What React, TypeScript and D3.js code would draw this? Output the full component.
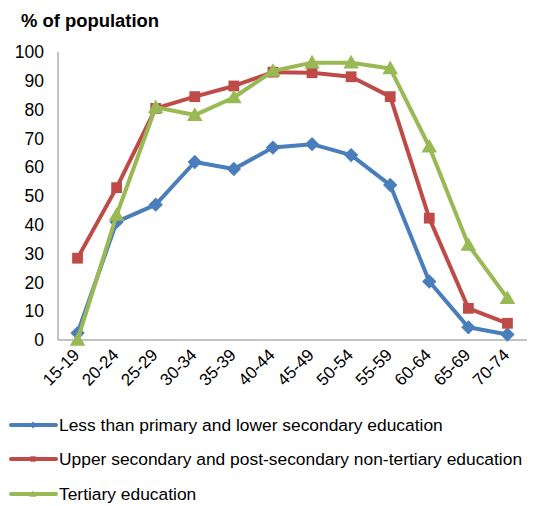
import React from "react";
import * as d3 from "d3";

const categories = ["15-19","20-24","25-29","30-34","35-39","40-44","45-49","50-54","55-59","60-64","65-69","70-74"];
const lowerSecondary = [2.4, 41, 47, 61.8, 59.4, 66.8, 68, 64.2, 53.8, 20.3, 4.4, 1.9];
const upperSecondary = [28.4, 52.9, 80.4, 84.5, 88.2, 93, 92.8, 91.4, 84.5, 42.3, 11, 5.8];
const tertiary = [0, 43.4, 80.8, 78.1, 84.2, 93.4, 96.3, 96.3, 94.3, 67.1, 33, 14.5];
const yTicks = [0, 10, 20, 30, 40, 50, 60, 70, 80, 90, 100];
const seriesNames = [
  "Less than primary and lower secondary education",
  "Upper secondary and post-secondary non-tertiary education",
  "Tertiary education",
];

const colors = ["#4A7EBB", "#BE4B48", "#98B954"];
const shapes = ["diamond", "square", "triangle"];

const W = 547, H = 506;
const left = 58, right = 527, top = 52, bottom = 340;

function Marker({ shape, x, y, color, s }: { shape: string; x: number; y: number; color: string; s: number }) {
  if (shape === "diamond") {
    const r = s * 0.6;
    return <path d={`M${x},${y - r}L${x + r},${y}L${x},${y + r}L${x - r},${y}Z`} fill={color} />;
  }
  if (shape === "square") {
    const r = s * 0.45;
    return <rect x={x - r} y={y - r} width={2 * r} height={2 * r} fill={color} />;
  }
  const r = s * 0.6;
  return <path d={`M${x},${y - r}L${x + r},${y + r * 0.75}L${x - r},${y + r * 0.75}Z`} fill={color} />;
}

export default function App() {
  const x = d3.scaleBand().domain(categories).range([left, right]);
  const y = d3.scaleLinear().domain([0, 100]).range([bottom, top]);
  const cx = (c: string) => (x(c) as number) + x.bandwidth() / 2;
  const data = [lowerSecondary, upperSecondary, tertiary];
  const line = d3.line<number>().x((_, i) => cx(categories[i])).y((d) => y(d));
  const font = "Arial, 'Liberation Sans', sans-serif";

  return (
    <svg width={W} height={H} style={{ position: "absolute", left: 0, top: 0 }} fontFamily={font}>
      <rect width={W} height={H} fill="#fff" />
      <text x={21} y={27} fontSize={18.5} fontWeight="bold" fill="#000" textLength={138} lengthAdjust="spacingAndGlyphs">% of population</text>
      <line x1={left} x2={left} y1={top} y2={bottom} stroke="#868686" strokeWidth={1} />
      <line x1={left} x2={right} y1={bottom} y2={bottom} stroke="#868686" strokeWidth={1} />
      {yTicks.map((t) => (
        <text key={t} x={44} y={y(t)} dy="0.35em" textAnchor="end" fontSize={17.5} fill="#000">{t}</text>
      ))}
      {categories.map((c) => (
        <text key={c} transform={`translate(${cx(c) + 3},${bottom + 16}) rotate(-45)`} textAnchor="end" fontSize={17} fill="#000">{c}</text>
      ))}
      {data.map((vals, si) => (
        <g key={si}>
          <path d={line(vals) || ""} fill="none" stroke={colors[si]} strokeWidth={4} strokeLinejoin="round" />
          {vals.map((v, i) => (
            <Marker key={i} shape={shapes[si]} x={cx(categories[i])} y={y(v)} color={colors[si]} s={si === 2 ? 13 : 12} />
          ))}
        </g>
      ))}
      {seriesNames.map((n, si) => {
        const ly = [425, 459, 494][si];
        return (
          <g key={n}>
            <line x1={11} x2={56} y1={ly} y2={ly} stroke={colors[si]} strokeWidth={4} strokeLinecap="round" />
            <Marker shape={shapes[si]} x={33} y={ly} color={colors[si]} s={6} />
            <text x={59} y={ly} dy="0.35em" fontSize={17.4} fill="#000">{n}</text>
          </g>
        );
      })}
    </svg>
  );
}
